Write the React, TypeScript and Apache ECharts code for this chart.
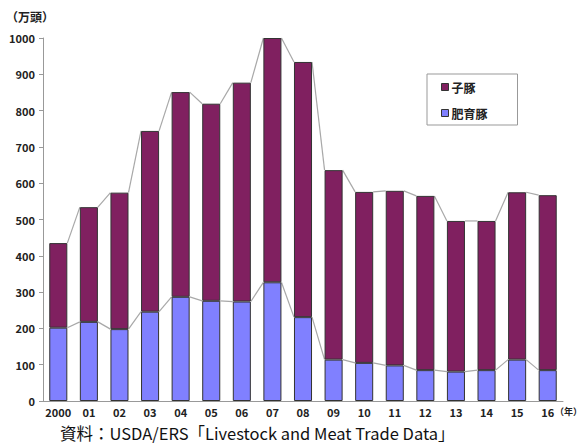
import React, { useEffect, useRef } from "react";
import * as echarts from "echarts";

const categories = ["2000", "01", "02", "03", "04", "05", "06", "07", "08", "09", "10", "11", "12", "13", "14", "15", "16"];
const fattening = [202, 218, 198, 246, 287, 276, 274, 327, 231, 114, 105, 98, 85, 81, 85, 114, 85];
const piglets = [233, 316, 376, 498, 564, 543, 603, 673, 703, 522, 471, 481, 480, 415, 411, 461, 482];
const yTicks = { min: 0, max: 1000, interval: 100 };

const FONT = "'Noto Sans CJK JP', 'Liberation Sans', sans-serif";
const BAR_RATIO = 0.59;

export default function App() {
  const ref = useRef<HTMLDivElement>(null);
  useEffect(() => {
    if (!ref.current) return;
    const chart = echarts.init(ref.current, null, { renderer: "svg" });
    const totals = fattening.map((v, i) => v + piglets[i]);
    const mkLinks = (arr: number[]) =>
      arr.slice(0, -1).map((v, i) => [i, v, arr[i + 1]]);
    const linkSeries = (arr: number[]) => ({
      type: "custom",
      silent: true,
      z: 1,
      data: mkLinks(arr),
      encode: { x: 0, y: 1 },
      renderItem: (params: any, api: any) => {
        const i = api.value(0);
        const p1 = api.coord([i, api.value(1)]);
        const p2 = api.coord([i + 1, api.value(2)]);
        const w = api.size([1, 0])[0] * BAR_RATIO;
        return {
          type: "line",
          shape: { x1: p1[0] + w / 2, y1: p1[1], x2: p2[0] - w / 2, y2: p2[1] },
          style: { stroke: "#a8a8a8", lineWidth: 1.2 },
        };
      },
    });
    chart.setOption({
      animation: false,
      textStyle: { fontFamily: FONT },
      grid: { left: 43, right: 19, top: 38, bottom: 44 },
      legend: {
        orient: "vertical",
        left: 427,
        top: 74,
        width: 88,
        data: ["子豚", "肥育豚"],
        icon: "rect",
        itemWidth: 7,
        itemHeight: 7,
        itemGap: 14,
        borderColor: "#999",
        borderWidth: 1,
        padding: [7, 30, 6, 14],
        itemStyle: { borderColor: "#333", borderWidth: 1 },
        textStyle: { fontSize: 12, fontWeight: "bold", color: "#222", fontFamily: FONT, padding: [0, 0, 0, -2] },
      },
      xAxis: {
        type: "category",
        data: categories,
        axisLine: { lineStyle: { color: "#999" } },
        axisTick: { show: false },
        axisLabel: { interval: 0, color: "#222", fontWeight: "bold", fontSize: 11, margin: 5, lineHeight: 11, fontFamily: FONT },
      },
      yAxis: {
        type: "value",
        min: yTicks.min,
        max: yTicks.max,
        interval: yTicks.interval,
        axisLine: { show: true, lineStyle: { color: "#999" } },
        axisTick: { show: true, length: 4, lineStyle: { color: "#999" } },
        splitLine: { show: false },
        axisLabel: {
          formatter: (v: number) => String(v),
          color: "#222",
          fontWeight: "bold",
          fontSize: 11,
          margin: 8,
          fontFamily: FONT,
        },
      },
      series: [
        {
          name: "肥育豚",
          type: "bar",
          stack: "total",
          data: fattening,
          barWidth: BAR_RATIO * 100 + "%",
          itemStyle: { color: "#8080ff", borderColor: "#333", borderWidth: 1 },
          z: 2,
        },
        {
          name: "子豚",
          type: "bar",
          stack: "total",
          data: piglets,
          barWidth: BAR_RATIO * 100 + "%",
          itemStyle: { color: "#802060", borderColor: "#333", borderWidth: 1 },
          z: 2,
        },
        linkSeries(fattening),
        linkSeries(totals),
      ],
      graphic: [
        {
          type: "text",
          left: 6,
          top: 10,
          style: { text: "（万頭）", fill: "#222", font: `bold 12px ${FONT}` },
        },
        {
          type: "text",
          left: 555,
          top: 406,
          style: { text: "（年）", fill: "#222", font: `bold 9px ${FONT}`, lineHeight: 11 },
        },
        {
          type: "text",
          left: 60,
          top: 425,
          style: {
            text: "資料：USDA/ERS「Livestock and Meat Trade Data」",
            fill: "#111",
            font: `16.5px ${FONT}`,
            lineHeight: 16,
          },
        },
      ],
    });
    return () => chart.dispose();
  }, []);
  return (
    <div
      ref={ref}
      style={{ position: "fixed", left: 0, top: 0, width: 582, height: 445, background: "#fff" }}
    />
  );
}
